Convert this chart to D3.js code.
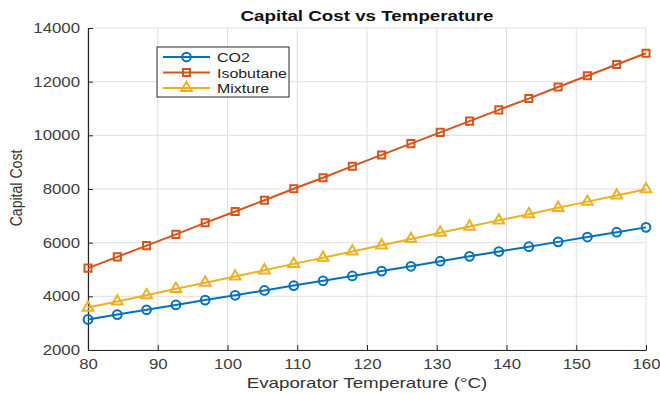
<!DOCTYPE html>
<html lang="en">
<head>
    <meta charset="UTF-8">
    <title>Capital Cost vs Temperature</title>
    <script src="https://cdn.jsdelivr.net/npm/d3@7"></script>
    <style>
        body { margin: 0; background: #fff; }
        text { font-family: "Liberation Sans", Arial, sans-serif; }
    </style>
</head>
<body>
    <script>
        // evaporator temperature (°C), 20 points between 80 and 160
        var temps = [80, 84.2, 88.4, 92.6, 96.8, 101.1, 105.3, 109.5, 113.7, 117.9,
                     122.1, 126.3, 130.5, 134.7, 138.9, 143.2, 147.4, 151.6, 155.8, 160];
        var co2 = [3140, 3320, 3500, 3680, 3860, 4040, 4220, 4400, 4580, 4760,
                   4940, 5120, 5310, 5490, 5670, 5850, 6030, 6210, 6390, 6570];
        var isobutane = [5050, 5470, 5890, 6310, 6740, 7160, 7580, 8010, 8420, 8850,
                         9270, 9690, 10110, 10530, 10950, 11370, 11800, 12220, 12640, 13060];
        var mixture = [3580, 3810, 4040, 4280, 4510, 4740, 4970, 5210, 5440, 5670,
                       5900, 6140, 6370, 6600, 6830, 7060, 7300, 7530, 7760, 7990];
        var seriesNames = ["CO2", "Isobutane", "Mixture"];
        var xTicks = [80, 90, 100, 110, 120, 130, 140, 150, 160];
        var yTicks = [2000, 4000, 6000, 8000, 10000, 12000, 14000];

        var series = [
            {name: seriesNames[0], values: co2, color: "#0072BD", symbol: d3.symbolCircle, size: 60},
            {name: seriesNames[1], values: isobutane, color: "#D95319", symbol: d3.symbolSquare, size: 50},
            {name: seriesNames[2], values: mixture, color: "#EDB120", symbol: d3.symbolTriangle, size: 50}
        ];

        var W = 660, H = 394;
        var m = {left: 88, right: 14, top: 28, bottom: 44};

        // the reference picture is a bit wider than tall, text looks stretched sideways
        function stretch(sel, k) {
            sel.each(function() {
                var len = this.getComputedTextLength();
                d3.select(this).attr("textLength", len * k).attr("lengthAdjust", "spacingAndGlyphs");
            });
        }

        var svg = d3.select("body").append("svg")
            .attr("width", W).attr("height", H);

        var x = d3.scaleLinear().domain([80, 160]).range([m.left, W - m.right]);
        var y = d3.scaleLinear().domain([2000, 14000]).range([H - m.bottom, m.top]);

        // grid
        svg.append("g").selectAll("line.gx").data(xTicks).enter().append("line")
            .attr("x1", d => x(d)).attr("x2", d => x(d))
            .attr("y1", y(2000)).attr("y2", y(14000))
            .attr("stroke", "#e0e0e0").attr("stroke-width", 1);
        svg.append("g").selectAll("line.gy").data(yTicks).enter().append("line")
            .attr("x1", x(80)).attr("x2", x(160))
            .attr("y1", d => y(d)).attr("y2", d => y(d))
            .attr("stroke", "#e0e0e0").attr("stroke-width", 1);

        // axes, ticks inside like matlab
        var xAxis = svg.append("g")
            .attr("transform", "translate(0," + y(2000) + ")")
            .call(d3.axisBottom(x).tickValues(xTicks).tickFormat(d3.format("d"))
                .tickSizeInner(-5).tickSizeOuter(0).tickPadding(9));
        var yAxis = svg.append("g")
            .attr("transform", "translate(" + x(80) + ",0)")
            .call(d3.axisLeft(y).tickValues(yTicks).tickFormat(d3.format("d"))
                .tickSizeInner(-5).tickSizeOuter(0).tickPadding(8));
        [xAxis, yAxis].forEach(function(a) {
            a.select(".domain").attr("stroke", "#262626").attr("stroke-width", 1.2);
            a.selectAll(".tick line").attr("stroke", "#262626");
            a.selectAll(".tick text").attr("fill", "#404040")
                .style("font-size", "14px");
            stretch(a.selectAll(".tick text"), 1.2);
        });

        // lines + markers
        var line = d3.line().x((d, i) => x(temps[i])).y(d => y(d));
        series.forEach(function(s) {
            svg.append("path")
                .datum(s.values)
                .attr("fill", "none")
                .attr("stroke", s.color)
                .attr("stroke-width", 2)
                .attr("d", line);
            svg.append("g").selectAll("path")
                .data(s.values)
                .enter().append("path")
                .attr("d", d3.symbol().type(s.symbol).size(s.size))
                .attr("transform", (d, i) => "translate(" + x(temps[i]) + "," + y(d) + ")")
                .attr("fill", "none")
                .attr("stroke", s.color)
                .attr("stroke-width", 2);
        });

        // title and labels
        var title = svg.append("text")
            .attr("x", (m.left + W - m.right) / 2).attr("y", 21)
            .attr("text-anchor", "middle")
            .style("font-weight", "bold").style("font-size", "15px")
            .attr("fill", "#111")
            .text("Capital Cost vs Temperature");
        stretch(title, 1.25);
        var xlab = svg.append("text")
            .attr("x", (m.left + W - m.right) / 2).attr("y", 388)
            .attr("text-anchor", "middle")
            .style("font-size", "15px")
            .attr("fill", "#333")
            .text("Evaporator Temperature (°C)");
        stretch(xlab, 1.25);
        // y label looks narrow, so squeeze it along its length
        var ylab = svg.append("text")
            .attr("transform", "translate(22,188) rotate(-90)")
            .attr("text-anchor", "middle")
            .style("font-size", "16px")
            .attr("fill", "#333")
            .text("Capital Cost");
        stretch(ylab, 0.88);

        // legend
        var lg = svg.append("g").attr("transform", "translate(157,47)");
        lg.append("rect")
            .attr("width", 132).attr("height", 50)
            .attr("fill", "#fff").attr("stroke", "#262626").attr("stroke-width", 1);
        series.forEach(function(s, i) {
            var row = lg.append("g").attr("transform", "translate(0," + (10 + i * 15.5) + ")");
            row.append("line")
                .attr("x1", 6).attr("x2", 53)
                .attr("stroke", s.color).attr("stroke-width", 2);
            row.append("path")
                .attr("d", d3.symbol().type(s.symbol).size(s.size))
                .attr("transform", "translate(29.5,0)")
                .attr("fill", "none").attr("stroke", s.color).attr("stroke-width", 2);
            var t = row.append("text")
                .attr("x", 60).attr("y", 5)
                .style("font-size", "13.5px")
                .attr("fill", "#222")
                .text(s.name);
            stretch(t, 1.18);
        });
    </script>
</body>
</html>
